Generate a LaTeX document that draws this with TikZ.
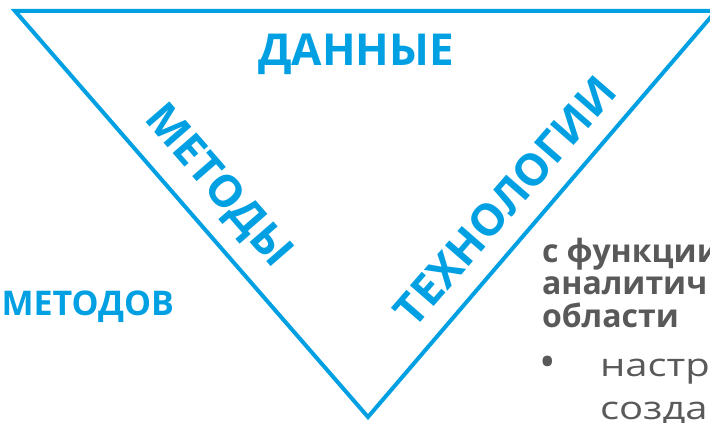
\documentclass[tikz,border=0pt]{standalone}
\usepackage{fontspec}
\setmainfont{Open Sans}
\usepackage{xcolor}
\usetikzlibrary{math}
\usetikzlibrary{calc}
\usetikzlibrary{positioning}

\definecolor{triblue}{HTML}{00A0E3}
\definecolor{textgray}{HTML}{595959}

\begin{document}
\begin{tikzpicture}[x=1pt,y=1pt,line width=4pt,
  sidetext/.style={text=triblue,inner sep=0pt,
    font=\bfseries\fontsize{44}{44}\selectfont},
  boldgray/.style={text=textgray,inner sep=0pt,anchor=base west,
    font=\bfseries\fontsize{32}{33}\selectfont},
  lightgray/.style={text=textgray,inner sep=0pt,anchor=base west,
    font=\fontsize{32}{33}\selectfont\addfontfeatures{FakeStretch=1.25}}]

  \tikzmath{
    \picwidth  = 710; % width of the picture
    \picheight = 423; % height of the picture
    \slope     = 49;  % angle of the two sides
  }

  \useasboundingbox (0,0) rectangle (\picwidth,\picheight);

  % corners of the triangle
  \coordinate (TL) at (15,412);
  \coordinate (TR) at (716,412);
  \coordinate (B)  at (368,6);

  % the triangle standing on its tip
  \draw[triblue, miter limit=10] (TL) -- (TR) -- (B) -- cycle;

  % labels of the three sides
  \node[sidetext, anchor=base] (data) at (356,357) {ДАННЫЕ};
  \node[sidetext, rotate=-\slope] (methods) at (217,236) {МЕТОДЫ};
  \node[sidetext, rotate=\slope] (tech) at (505,222) {ТЕХНОЛОГИИ};

  % text beside the triangle
  \node[sidetext, anchor=base east, font=\bfseries\fontsize{34}{34}\selectfont]
    (ofmethods) at (176,107) {МЕТОДОВ};

  \node[boldgray] (line1) at (540,160) {с функции};
  \node[boldgray] (line2) at (540,128) {аналитич};
  \node[boldgray] (line3) at (540,95)  {области};

  \node[text=textgray, inner sep=0pt, anchor=base west,
    font=\fontsize{44}{44}\selectfont] (bullet) at (537,45) {\textbullet};
  \node[lightgray] (item1) at (598,46) {настр};
  \node[lightgray] (item2) at (598,3)  {созда};

\end{tikzpicture}
\end{document}
